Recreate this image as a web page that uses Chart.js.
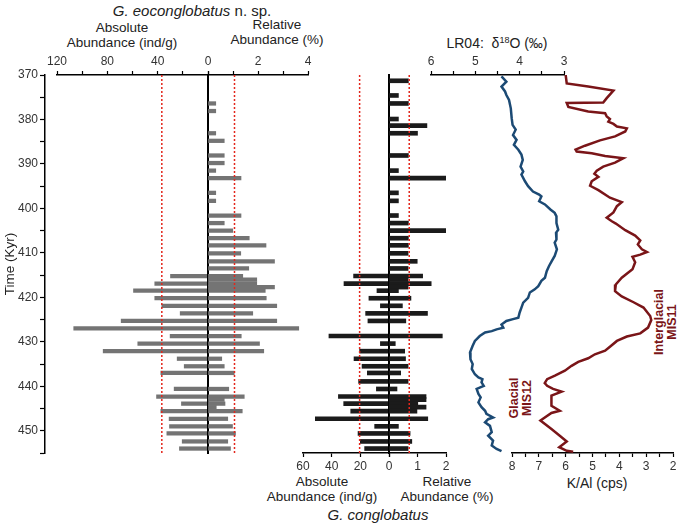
<!DOCTYPE html>
<html>
<head>
<meta charset="utf-8">
<script src="https://cdn.jsdelivr.net/npm/chart.js@4.4.1/dist/chart.umd.min.js"></script>
<style>
  body { margin: 0; background: #fff; }
  #wrap { position: relative; width: 685px; height: 524px; overflow: hidden; font-family: 'Liberation Sans', Arial, sans-serif; color: #222; }
  .panel { position: absolute; top: 0; height: 524px; }
  .lbl { position: absolute; white-space: nowrap; text-align: center; transform: translate(-50%, -50%); }
  .rot { transform: translate(-50%, -50%) rotate(-90deg); font-weight: bold; color: #7a1518; font-size: 12.5px; line-height: 13px; }
</style>
</head>
<body>
<div id="wrap">
  <div class="lbl" style="left:192px; top:10px; font-size:15px"><i>G. eoconglobatus</i> n. sp.</div>
  <div class="lbl" style="left:122px; top:35px; font-size:13.5px; line-height:15px">Absolute<br>Abundance (ind/g)</div>
  <div class="lbl" style="left:277px; top:32px; font-size:13.5px; line-height:15px">Relative<br>Abundance (%)</div>
  <div class="lbl" style="left:497px; top:43px; font-size:14px">LR04:&nbsp; &delta;<sup style="font-size:9px">18</sup>O (&permil;)</div>
  <div class="lbl" style="left:322px; top:489px; font-size:13.5px; line-height:15px">Absolute<br>Abundance (ind/g)</div>
  <div class="lbl" style="left:447px; top:489px; font-size:13.5px; line-height:15px">Relative<br>Abundance (%)</div>
  <div class="lbl" style="left:378px; top:514px; font-size:15px"><i>G. conglobatus</i></div>
  <div class="lbl" style="left:597px; top:483px; font-size:14px">K/Al (cps)</div>
  <div class="lbl rot" style="left:521px; top:398px">Glacial<br>MIS12</div>
  <div class="lbl rot" style="left:666px; top:322px">Interglacial<br>MIS11</div>
</div>
<script>
// sample ages shared by both foraminifera records (kyr)
const ageKyr = [371.3, 374.6, 376.4, 378.1, 379.9, 381.4, 383.1, 384.8, 388.1, 389.8,
  391.5, 393.2, 396.5, 398.3, 401.6, 403.3, 405.0, 406.7, 408.3, 410.1,
  411.9, 413.5, 415.2, 416.0, 416.9, 417.7, 418.5, 420.2, 421.9, 423.6,
  425.3, 427.0, 428.7, 430.4, 432.1, 433.8, 435.5, 437.0, 438.9, 440.6,
  442.3, 443.0, 443.9, 444.7, 445.6, 447.3, 449.0, 450.6, 452.4, 454.0]

// G. eoconglobatus
const eoAbsolute = [0, 0, 0, 0, 0, 0, 0, 0, 0, 0,
  0, 0, 0, 0, 0, 0, 0, 0, 0, 0,
  0, 0, 29.8, 0, 42.3, 0, 59.2, 42.3, 36.7, 22.1,
  69.0, 106.7, 30.1, 55.8, 83.3, 24.5, 18.9, 37.5, 0, 26.9,
  40.9, 0, 21.1, 0, 37.5, 30.9, 30.6, 32.7, 20.5, 22.7]
const eoRelative = [0, 0, 0.31, 0.31, 0, 0, 0.31, 0.65, 0.65, 0.65,
  0.31, 1.32, 0.31, 0.31, 1.32, 0.65, 0.99, 1.65, 2.32, 1.31,
  2.66, 1.63, 1.39, 1.95, 1.95, 2.66, 2.29, 2.33, 2.75, 1.79,
  2.75, 3.63, 1.33, 2.06, 2.23, 0.55, 0.65, 1.05, 0, 0.83,
  1.45, 0.65, 0.68, 0.33, 1.37, 0.79, 0.98, 1.10, 0.79, 0.90]

// G. conglobatus
const conAbsolute = [0, 0, 0, 0, 0, 0, 0, 0, 0, 0,
  0, 0, 0, 0, 0, 0, 0, 0, 0, 0,
  0, 0, 24.7, 0, 31.4, 0, 8.4, 14.0, 6.0, 16.3,
  14.7, 0, 41.9, 6.0, 20.5, 24.4, 18.8, 15.1, 21.2, 8.8,
  35.3, 0, 31.6, 0, 26.7, 51.4, 10.0, 21.6, 20.0, 17.0]
const conRelative = [0.68, 0.33, 0.68, 0, 0.33, 1.33, 1.00, 0, 0.68, 0,
  0.33, 2.00, 0.33, 0.33, 0.33, 0.68, 2.00, 0.68, 0.68, 0.67,
  0.99, 0.67, 1.18, 0.67, 1.48, 0.67, 0.33, 0.77, 0.47, 1.35,
  0.59, 0, 1.87, 0.22, 0.55, 0.58, 0.67, 0.41, 0.67, 0.28,
  1.30, 1.30, 1.01, 1.30, 0.98, 1.36, 0.33, 0.74, 0.80, 0.67]

// dotted reference levels
const eoAbsMean = 36.7
const eoRelMean = 1.06
const conAbsMean = 20.5
const conRelMean = 0.71

// LR04 benthic stack
const lr04Age = [370.3, 371.5, 372.6, 373.7, 374.5, 375.6, 377.5, 379.7, 381.2, 382.3,
  383.5, 384.6, 385.7, 386.8, 387.9, 389.1, 390.6, 391.7, 392.4, 393.9,
  395.0, 396.2, 396.9, 397.3, 398.4, 399.1, 400.3, 401.0, 401.8, 403.3,
  404.8, 405.5, 407.0, 407.7, 409.2, 410.7, 411.9, 413.0, 414.1, 415.6,
  416.3, 417.5, 418.2, 418.9, 420.1, 421.2, 422.3, 423.4, 424.6, 424.9,
  425.3, 426.1, 426.8, 427.2, 427.6, 427.9, 428.7, 429.8, 430.9, 432.4,
  433.9, 435.0, 436.1, 437.3, 438.0, 438.4, 439.1, 439.9, 440.6, 441.7,
  442.5, 443.6, 444.7, 445.5, 446.2, 447.0, 447.4, 448.1, 448.9, 450.3,
  451.1, 452.2, 453.3, 454.1, 454.6]
const lr04D18O = [4.41, 4.30, 4.41, 4.33, 4.30, 4.24, 4.20, 4.18, 4.16, 4.09,
  4.15, 4.07, 4.13, 4.03, 3.96, 3.93, 3.98, 3.92, 3.96, 3.88,
  3.81, 3.70, 3.56, 3.51, 3.56, 3.43, 3.30, 3.21, 3.17, 3.17,
  3.13, 3.18, 3.17, 3.21, 3.16, 3.21, 3.28, 3.34, 3.39, 3.43,
  3.51, 3.58, 3.66, 3.77, 3.81, 3.92, 3.96, 4.00, 4.03, 4.15,
  4.30, 4.41, 4.37, 4.52, 4.63, 4.78, 4.90, 5.01, 5.06, 5.12,
  5.11, 5.06, 5.08, 5.01, 4.93, 4.84, 4.86, 4.81, 4.97, 4.93,
  4.88, 4.93, 4.86, 4.78, 4.75, 4.60, 4.71, 4.78, 4.67, 4.63,
  4.71, 4.60, 4.63, 4.52, 4.41]

// XRF K/Al
const kalAge = [370.0, 371.9, 372.6, 373.5, 375.2, 376.2, 376.3, 377.2, 378.2, 378.6,
  379.3, 379.9, 380.5, 381.0, 381.6, 382.0, 382.7, 383.8, 384.7, 385.9,
  386.8, 387.2, 387.6, 388.2, 388.7, 389.7, 390.6, 391.5, 392.2, 392.9,
  393.9, 394.9, 395.9, 397.6, 398.6, 399.5, 400.9, 402.1, 402.9, 403.4,
  404.9, 406.1, 407.2, 408.1, 409.2, 409.8, 410.4, 410.9, 412.1, 413.7,
  415.6, 417.1, 418.6, 419.8, 421.1, 422.3, 424.2, 425.1, 426.8, 428.1,
  428.8, 429.8, 431.1, 432.0, 432.8, 433.7, 434.5, 435.4, 436.5, 437.6,
  438.4, 439.3, 439.9, 440.6, 441.2, 442.1, 444.4, 445.5, 446.0, 447.7,
  449.6, 451.1, 452.4, 453.7, 454.5, 454.7]
const kalRatio = [6.00, 5.96, 5.16, 4.22, 4.47, 4.60, 5.96, 5.90, 5.16, 4.53,
  4.47, 4.35, 4.41, 4.22, 4.09, 3.72, 3.78, 4.16, 4.72, 5.28,
  5.63, 5.59, 5.03, 4.53, 3.85, 4.16, 4.60, 4.84, 4.93, 4.78,
  5.03, 5.09, 4.78, 4.35, 3.91, 4.09, 4.22, 4.47, 4.28, 4.13,
  3.78, 3.41, 3.22, 3.31, 3.16, 2.97, 3.22, 3.51, 3.41, 3.51,
  3.91, 4.13, 4.16, 3.91, 3.47, 3.10, 2.85, 2.81, 2.93, 3.22,
  3.72, 4.09, 4.35, 4.53, 4.91, 5.16, 5.53, 5.78, 6.03, 6.40,
  6.69, 6.78, 6.69, 6.47, 6.15, 6.53, 6.53, 6.22, 6.53, 6.94,
  6.53, 6.22, 5.96, 6.24, 5.96, 5.72]

const TIME_MIN = 370
const TIME_MAX = 455
const PLOT_TOP = 75
const PLOT_BOTTOM = 453
const H = 524
const PAD = 20
const AXIS_H = 22
const FONT = "'Liberation Sans', Arial, sans-serif"

Chart.defaults.font.family = FONT
Chart.defaults.animation = false
Chart.defaults.plugins.legend.display = false
Chart.defaults.plugins.tooltip.enabled = false

const hiddenTime = { type: 'linear', min: TIME_MIN, max: TIME_MAX, reverse: true, offset: false, display: false }

// y axis reduced to its border: the vertical zero line of the abundance panels
const zeroLine = {
  type: 'linear', min: TIME_MIN, max: TIME_MAX, reverse: true, offset: false, position: 'left',
  ticks: { display: false },
  grid: { display: true, drawOnChartArea: false, drawTicks: false, offset: false },
  border: { display: true, color: '#000', width: 2 },
  afterFit: s => { s.width = 0 }
}

const valueAxis = (min, max, step, reverse, label) => ({
  type: 'linear', min, max, reverse,
  ticks: { stepSize: step, autoSkip: false, maxRotation: 0, color: '#333', font: { size: 12 }, padding: 2, callback: label },
  grid: { display: true, drawOnChartArea: false, tickLength: 4, tickWidth: 1.2, tickColor: '#000' },
  border: { display: true, color: '#000', width: 1.5 }
})

const barsFrom = (values) => ageKyr
  .map((age, i) => ({ x: values[i], y: age }))
  .filter(p => p.x > 0)

const levelLine = (value) => ({
  type: 'line',
  data: [{ x: value, y: TIME_MIN }, { x: value, y: TIME_MAX }],
  borderColor: '#e3261c', borderWidth: 1.5, borderDash: [2, 2], pointRadius: 0, fill: false
})

const barSet = (values, color, thickness) => ({
  type: 'bar', data: barsFrom(values), backgroundColor: color, barThickness: thickness, borderWidth: 0
})

const addPanel = (left, right, axisPos, xScale, datasets, yScale) => {
  const box = document.createElement('div')
  box.className = 'panel'
  box.style.left = (left - PAD) + 'px'
  box.style.width = (right - left + 2 * PAD) + 'px'
  const canvas = document.createElement('canvas')
  box.appendChild(canvas)
  document.querySelector('#wrap').appendChild(box)
  const top = axisPos === 'top' ? PLOT_TOP - AXIS_H : PLOT_TOP
  const bottom = axisPos === 'bottom' ? H - PLOT_BOTTOM - AXIS_H : H - PLOT_BOTTOM
  return new Chart(canvas, {
    type: 'bar',
    data: { datasets },
    options: {
      responsive: true,
      maintainAspectRatio: false,
      indexAxis: 'y',
      layout: { padding: { left: PAD, right: PAD, top, bottom } },
      scales: {
        x: Object.assign({ position: axisPos, afterFit: s => { s.height = AXIS_H } }, xScale),
        y: yScale || hiddenTime
      }
    }
  })
}

// time axis on the far left
const timeBox = document.createElement('div')
timeBox.className = 'panel'
timeBox.style.left = '0px'
timeBox.style.width = '47px'
const timeCanvas = document.createElement('canvas')
timeBox.appendChild(timeCanvas)
document.querySelector('#wrap').appendChild(timeBox)
new Chart(timeCanvas, {
  type: 'scatter',
  data: { datasets: [] },
  options: {
    responsive: true,
    maintainAspectRatio: false,
    layout: { padding: { left: 0, right: 1, top: PLOT_TOP, bottom: H - PLOT_BOTTOM } },
    scales: {
      x: { display: false, min: 0, max: 1 },
      y: {
        type: 'linear', min: TIME_MIN, max: TIME_MAX, reverse: true, offset: false,
        ticks: { stepSize: 5, autoSkip: false, color: '#333', font: { size: 12 }, padding: 2,
          callback: v => v % 10 === 0 ? v : '' },
        grid: { display: true, drawOnChartArea: false, tickLength: 5, tickWidth: 1.2, tickColor: '#000' },
        border: { display: true, color: '#000', width: 1.5 },
        title: { display: true, text: 'Time (Kyr)', color: '#222', font: { size: 13.5 }, padding: { top: 2, bottom: 0 } },
        afterFit: s => { s.width = 45 }
      }
    }
  }
})

// G. eoconglobatus: absolute (left) and relative (right)
addPanel(57, 208, 'top',
  valueAxis(0, 120, 20, true, v => v % 40 === 0 ? v : ''),
  [levelLine(eoAbsMean), barSet(eoAbsolute, '#747474', 3.6)])
addPanel(208, 308, 'top',
  valueAxis(0, 4, 1, false, v => v !== 0 && v % 2 === 0 ? v : ''),
  [levelLine(eoRelMean), barSet(eoRelative, '#747474', 3.6)], zeroLine)

// G. conglobatus: absolute (left) and relative (right)
addPanel(303, 389, 'bottom',
  valueAxis(0, 60, 20, true, v => v),
  [levelLine(conAbsMean), barSet(conAbsolute, '#1b1b1b', 4)])
addPanel(389, 446, 'bottom',
  valueAxis(0, 2, 1, false, v => v !== 0 ? v : ''),
  [levelLine(conRelMean), barSet(conRelative, '#1b1b1b', 4)], zeroLine)

// LR04 d18O and K/Al curves
const curve = (ages, values, color) => ({
  type: 'line',
  data: ages.map((age, i) => ({ x: values[i], y: age })),
  borderColor: color, borderWidth: 2.5, pointRadius: 0, fill: false, tension: 0
})

addPanel(431, 564, 'top',
  valueAxis(3, 6, 0.5, true, v => Number.isInteger(v) ? v : ''),
  [curve(lr04Age, lr04D18O, '#1c4a74')])
addPanel(512, 673, 'bottom',
  valueAxis(2, 8, 0.5, true, v => Number.isInteger(v) ? v : ''),
  [curve(kalAge, kalRatio, '#7a1518')])
</script>
</body>
</html>
